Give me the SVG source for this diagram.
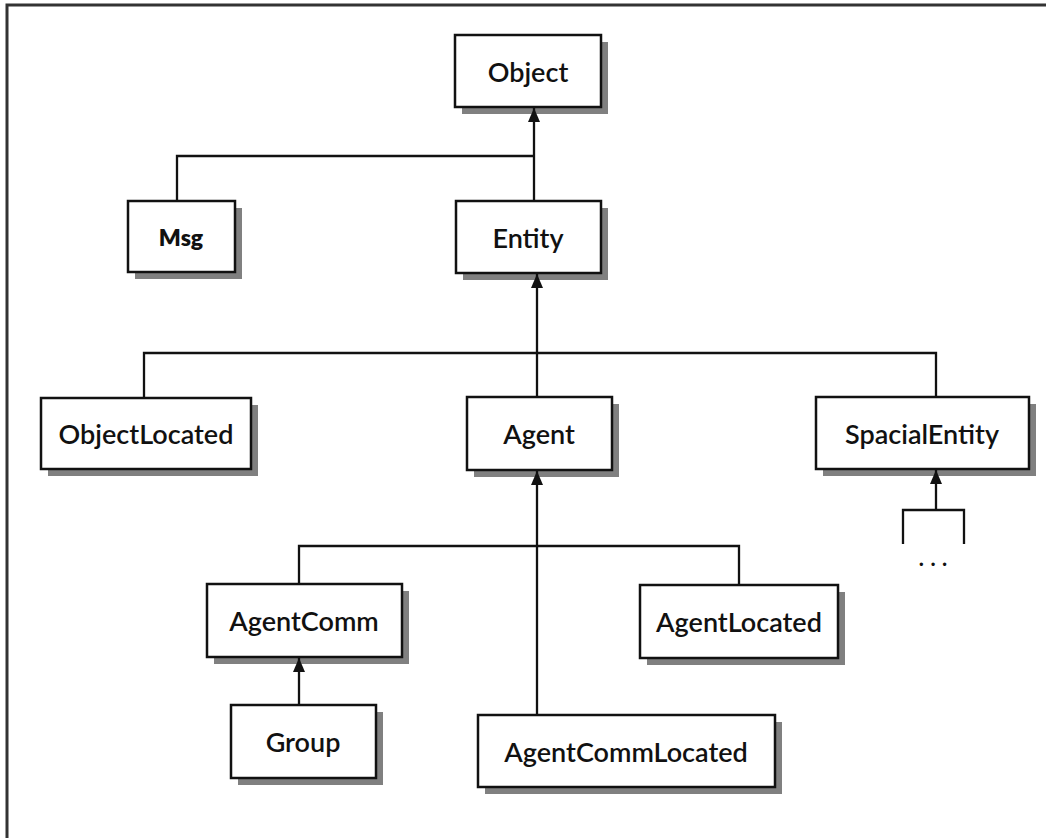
<svg xmlns="http://www.w3.org/2000/svg" width="1046" height="838" viewBox="0 0 1046 838">
<style>
.sh{fill:#808080}
.bx{fill:#fff;stroke:#111;stroke-width:2.5}
.t{font-family:Lato,"Liberation Sans",sans-serif;font-size:27px;font-weight:600;fill:#111;text-anchor:middle;dominant-baseline:central}
.c{fill:none;stroke:#111;stroke-width:2.3}
</style>
<defs>
<marker id="ah" markerWidth="14" markerHeight="14" refX="14" refY="7" orient="auto" markerUnits="userSpaceOnUse">
<path d="M0,1 L14,7 L0,13 z" fill="#111"/>
</marker>
</defs>
<rect width="1046" height="838" fill="#fff"/>
<path d="M7,838 V5 H1046" fill="none" stroke="#333" stroke-width="3"/>
<g id="n-object"><rect class="sh" x="462" y="42" width="146" height="72"/><rect class="bx" x="455" y="35" width="146" height="72"/><text class="t" x="528" y="71">Object</text></g>
<g id="n-msg"><rect class="sh" x="135" y="208" width="107" height="71"/><rect class="bx" x="128" y="201" width="107" height="71"/><text class="t" x="181" y="237" style="font-size:23px;font-weight:800">Msg</text></g>
<g id="n-entity"><rect class="sh" x="463" y="208" width="145" height="72"/><rect class="bx" x="456" y="201" width="145" height="72"/><text class="t" x="528" y="237">Entity</text></g>
<g id="n-objectlocated"><rect class="sh" x="48" y="405" width="210" height="71"/><rect class="bx" x="41" y="398" width="210" height="71"/><text class="t" x="146" y="433">ObjectLocated</text></g>
<g id="n-agent"><rect class="sh" x="474" y="404" width="145" height="73"/><rect class="bx" x="467" y="397" width="145" height="73"/><text class="t" x="539" y="433">Agent</text></g>
<g id="n-spacialentity"><rect class="sh" x="823" y="404" width="213" height="72"/><rect class="bx" x="816" y="397" width="213" height="72"/><text class="t" x="922" y="433">SpacialEntity</text></g>
<g id="n-agentcomm"><rect class="sh" x="214" y="591" width="195" height="73"/><rect class="bx" x="207" y="584" width="195" height="73"/><text class="t" x="304" y="620">AgentComm</text></g>
<g id="n-agentlocated"><rect class="sh" x="647" y="592" width="198" height="73"/><rect class="bx" x="640" y="585" width="198" height="73"/><text class="t" x="739" y="621">AgentLocated</text></g>
<g id="n-group"><rect class="sh" x="238" y="712" width="145" height="73"/><rect class="bx" x="231" y="705" width="145" height="73"/><text class="t" x="303" y="741">Group</text></g>
<g id="n-agentcommlocated"><rect class="sh" x="485" y="722" width="297" height="72"/><rect class="bx" x="478" y="715" width="297" height="72"/><text class="t" x="626" y="751">AgentCommLocated</text></g>
<g id="n-more"><text class="t" x="936" y="556" style="font-size:24px;letter-spacing:6px">...</text></g>
<g id="connectors">
<path class="c" d="M534,200 V108" marker-end="url(#ah)"/>
<path class="c" d="M177,200 V156 H534"/>
<path class="c" d="M537,397 V274" marker-end="url(#ah)"/>
<path class="c" d="M144,397 V353 H936 V397"/>
<path class="c" d="M537,714 V471" marker-end="url(#ah)"/>
<path class="c" d="M299,584 V546 H739 V585"/>
<path class="c" d="M299,705 V658" marker-end="url(#ah)"/>
<path class="c" d="M936,510 V470" marker-end="url(#ah)"/>
<path class="c" d="M903,544 V510 H964 V544"/>
</g>
</svg>
